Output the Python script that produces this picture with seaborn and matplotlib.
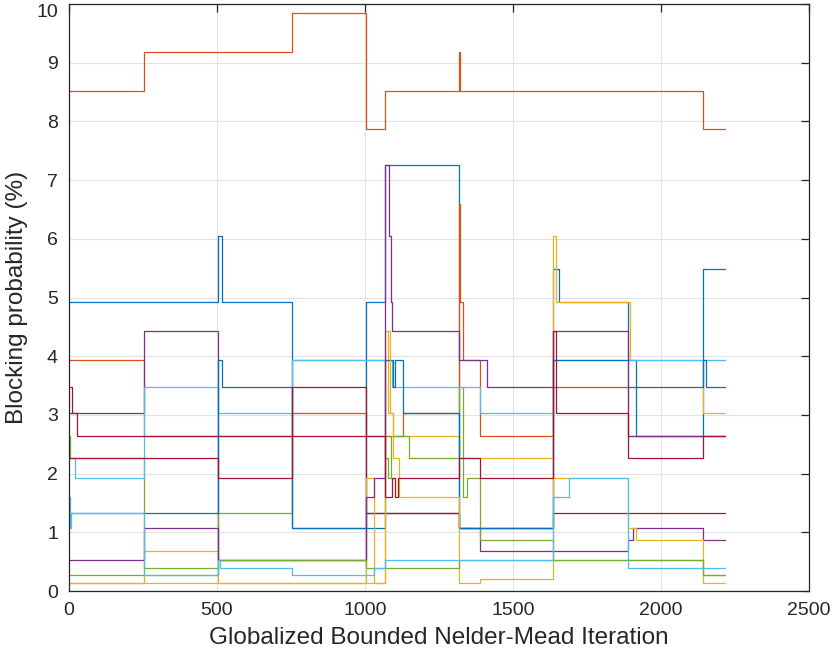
import matplotlib
matplotlib.use("Agg")
import matplotlib.pyplot as plt
import pandas as pd
import seaborn as sns

# Last iteration of the optimisation run
END_ITER = 2216

# Each run: iterations where a new level starts, and the blocking probability (%) held from there
top_orange_it = [0, 255, 753, 1003, 1068, 1318, 1322, 2142]
top_orange_pct = [8.52, 9.18, 9.85, 7.87, 8.52, 9.18, 8.52, 7.87]

blue_a_it = [0, 503, 517, 753, 1003, 1068, 1318, 1635, 1655, 1889, 1915, 2142]
blue_a_pct = [4.93, 6.05, 4.93, 1.08, 4.93, 7.25, 1.08, 5.48, 4.93, 3.93, 2.64, 5.48]

blue_b_it = [0, 503, 517, 753, 1068, 1095, 1100, 1130, 1318, 1635, 1889, 2142, 2152]
blue_b_pct = [1.33, 3.93, 3.47, 1.08, 3.93, 3.47, 3.93, 3.03, 1.08, 3.93, 3.47, 3.93, 3.47]

orange_b_it = [0, 255, 753, 1003, 1130, 1318, 1321, 1331, 1389, 1635, 1889]
orange_b_pct = [3.93, 2.64, 3.03, 2.64, 3.03, 6.6, 4.93, 3.93, 2.64, 3.47, 2.64]

yellow_a_it = [0, 255, 503, 1068, 1078, 1095, 1318, 1635, 1645, 1895, 2142]
yellow_a_pct = [0.13, 0.68, 0.13, 4.43, 3.03, 2.64, 2.27, 6.05, 4.93, 3.93, 3.03]

yellow_b_it = [0, 1003, 1030, 1068, 1085, 1095, 1115, 1318, 1389, 1635, 1889, 1915, 2142]
yellow_b_pct = [0.13, 1.93, 0.13, 4.43, 3.03, 2.27, 1.6, 0.13, 0.2, 1.93, 1.08, 0.87, 0.13]

purple_a_it = [0, 255, 503, 1003, 1318, 1389, 1889, 1905, 2142]
purple_a_pct = [3.03, 4.43, 0.53, 1.33, 1.08, 0.68, 0.87, 1.08, 0.87]

purple_b_it = [0, 255, 503, 1003, 1030, 1068, 1081, 1088, 1091, 1318, 1412, 1635, 1889]
purple_b_pct = [0.53, 1.08, 0.53, 1.6, 1.93, 7.25, 6.05, 4.93, 4.43, 3.93, 3.47, 4.43, 2.64]

green_a_it = [0, 5, 255, 503, 753, 1068, 1078, 1088, 1150, 1318, 1331, 1343, 1389, 1635, 2142]
green_a_pct = [2.64, 2.27, 0.40, 1.33, 3.93, 2.27, 1.93, 2.64, 2.27, 3.47, 1.6, 1.93, 0.87, 0.53, 0.27]

green_b_it = [0, 503, 1003, 1318, 2142]
green_b_pct = [0.27, 0.53, 0.40, 0.53, 0.27]

cyan_a_it = [0, 20, 255, 503, 753, 1091, 1389, 1635]
cyan_a_pct = [2.27, 1.93, 3.47, 3.03, 3.93, 3.47, 3.03, 3.93]

cyan_b_it = [0, 3, 8, 255, 503, 510, 753, 1030, 1068, 1635, 1690, 1889]
cyan_b_pct = [1.6, 1.08, 1.33, 0.27, 0.53, 0.40, 0.27, 0.40, 0.53, 1.6, 1.93, 0.40]

red_a_it = [0, 10, 27, 1003, 1318, 1635]
red_a_pct = [3.47, 3.03, 2.64, 1.33, 1.08, 1.33]

red_b_it = [0, 503, 753, 1003, 1068, 1091, 1101, 1111, 1318, 1389, 1635, 1645, 1889, 2142]
red_b_pct = [2.27, 1.93, 3.47, 2.64, 1.6, 1.93, 1.6, 1.93, 2.27, 1.93, 4.43, 3.03, 2.27, 2.64]

runs = [
    ("top_orange", top_orange_it, top_orange_pct, "#D95319"),
    ("blue_a", blue_a_it, blue_a_pct, "#0072BD"),
    ("orange_b", orange_b_it, orange_b_pct, "#D95319"),
    ("yellow_a", yellow_a_it, yellow_a_pct, "#EDB120"),
    ("purple_a", purple_a_it, purple_a_pct, "#7E2F8E"),
    ("green_a", green_a_it, green_a_pct, "#77AC30"),
    ("cyan_a", cyan_a_it, cyan_a_pct, "#4DBEEE"),
    ("red_a", red_a_it, red_a_pct, "#A2142F"),
    ("blue_b", blue_b_it, blue_b_pct, "#0072BD"),
    ("yellow_b", yellow_b_it, yellow_b_pct, "#EDB120"),
    ("purple_b", purple_b_it, purple_b_pct, "#7E2F8E"),
    ("green_b", green_b_it, green_b_pct, "#77AC30"),
    ("cyan_b", cyan_b_it, cyan_b_pct, "#4DBEEE"),
    ("red_b", red_b_it, red_b_pct, "#A2142F"),
]

rows = []
for name, its, pcts, _ in runs:
    xs = list(its) + [END_ITER]
    ys = list(pcts) + [pcts[-1]]
    for order, (x, y) in enumerate(zip(xs, ys)):
        rows.append({"run": name, "order": order, "iteration": x, "blocking": y})
df = pd.DataFrame(rows)
palette = {name: color for name, _, _, color in runs}
hue_order = [name for name, _, _, _ in runs]

sns.set_theme(style="whitegrid")
plt.rcParams["font.family"] = ["Liberation Sans", "DejaVu Sans"]

fig = plt.figure(figsize=(8.32, 6.63), dpi=100)
ax = fig.add_axes([69 / 832, 72 / 663, 740 / 832, 587 / 663])

sns.lineplot(
    data=df, x="iteration", y="blocking", hue="run", hue_order=hue_order,
    palette=palette, estimator=None, sort=False, drawstyle="steps-post",
    linewidth=0.9, legend=False, ax=ax,
)

ax.set_xlim(0, 2500)
ax.set_ylim(0, 10)
ax.set_xticks(range(0, 2501, 500))
ax.set_yticks(range(0, 11, 1))
ax.set_facecolor("white")
ax.grid(True, color="#e3e3e3", linewidth=0.8)
ax.set_axisbelow(True)
for side in ["left", "right", "top", "bottom"]:
    sp = ax.spines[side]
    sp.set_visible(True)
    sp.set_color("#262626")
    sp.set_linewidth(0.9)
ax.tick_params(direction="in", length=6, width=0.9, color="#262626",
               top=True, right=True, labelsize=14, labelcolor="#262626", pad=8)
# keep the top y tick label inside the canvas
fig.canvas.draw()
ax.get_yticklabels()[-1].set_verticalalignment("top")

ax.set_xlabel("Globalized Bounded Nelder-Mead Iteration", fontsize=17.5, color="#262626", labelpad=6)
ax.set_ylabel("Blocking probability (%)", fontsize=17.5, color="#262626", labelpad=6)

fig.savefig("out.png", dpi=100)
